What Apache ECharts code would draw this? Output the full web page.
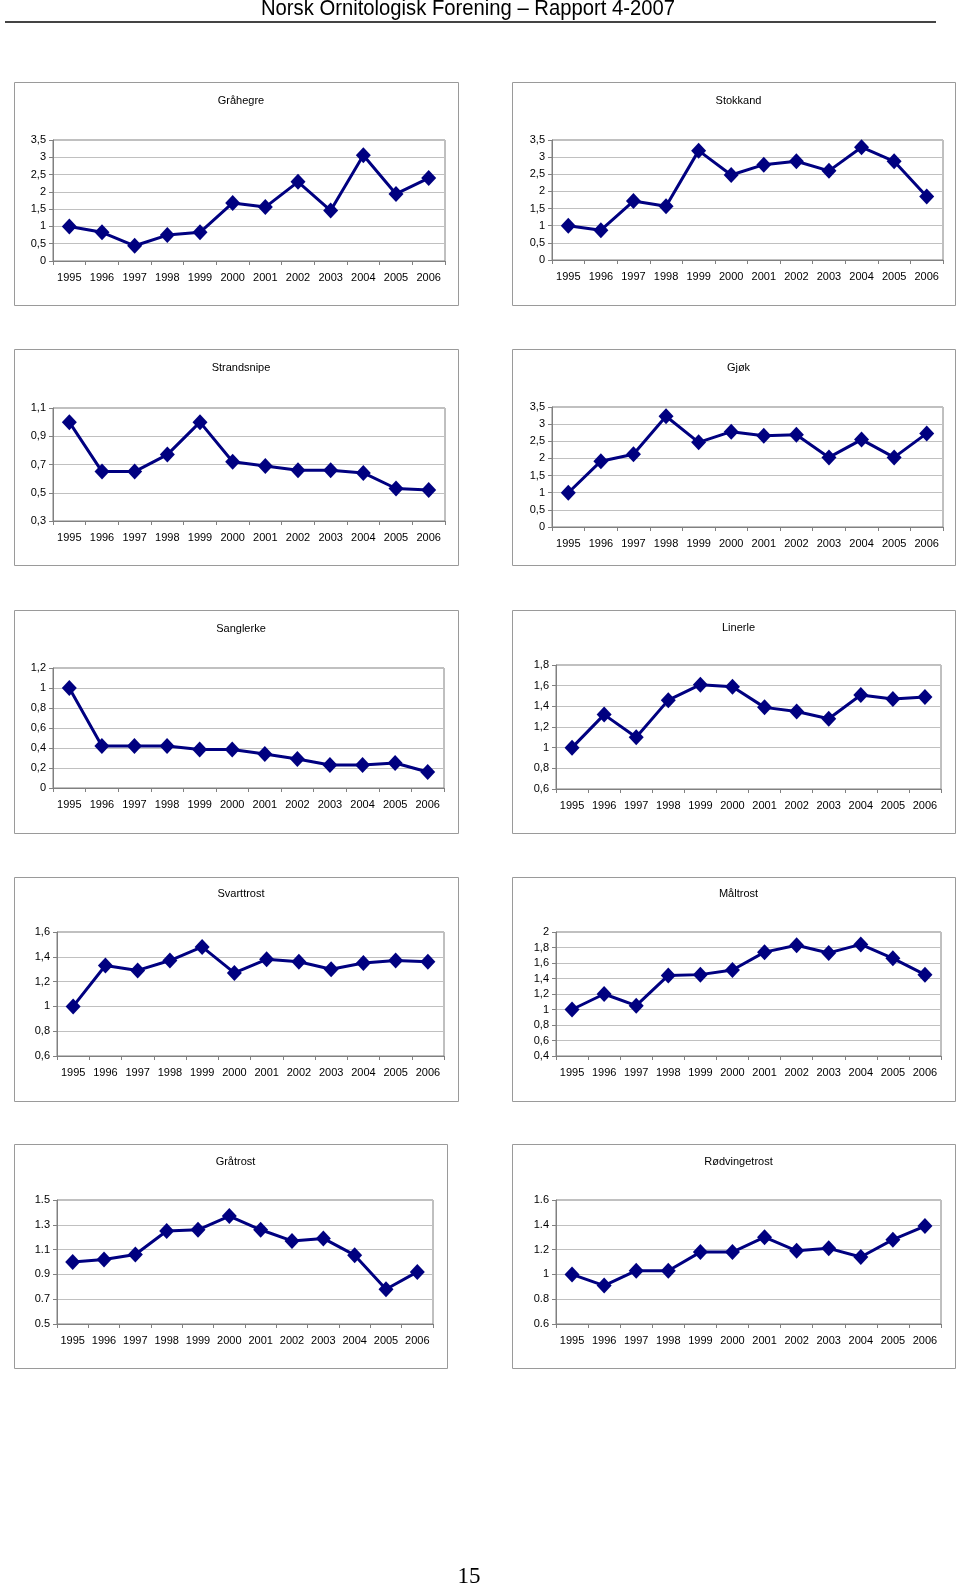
<!DOCTYPE html>
<html>
<head>
<meta charset="utf-8">
<script src="https://cdn.jsdelivr.net/npm/echarts@6/dist/echarts.min.js"></script>
<style>
  html, body { margin: 0; padding: 0; background: #ffffff; }
  #chart { width: 960px; height: 1586px; }
</style>
</head>
<body>
<div id="chart"></div>
<script>
const years = ["1995", "1996", "1997", "1998", "1999", "2000", "2001", "2002", "2003", "2004", "2005", "2006"];

const grahegre = [1.0, 0.83, 0.44, 0.75, 0.83, 1.68, 1.56, 2.29, 1.46, 3.06, 1.94, 2.4];
const stokkand = [1.0, 0.87, 1.72, 1.57, 3.19, 2.48, 2.78, 2.88, 2.6, 3.29, 2.88, 1.85];
const strandsnipe = [1.0, 0.65, 0.65, 0.77, 1.0, 0.72, 0.69, 0.66, 0.66, 0.64, 0.53, 0.52];
const gjok = [1.0, 1.92, 2.12, 3.23, 2.47, 2.78, 2.66, 2.69, 2.03, 2.55, 2.03, 2.73];
const sanglerke = [1.0, 0.42, 0.42, 0.42, 0.385, 0.385, 0.34, 0.29, 0.23, 0.23, 0.25, 0.16];
const linerle = [1.0, 1.32, 1.1, 1.46, 1.61, 1.59, 1.39, 1.35, 1.28, 1.51, 1.47, 1.49];
const svarttrost = [1.0, 1.33, 1.29, 1.37, 1.48, 1.27, 1.38, 1.36, 1.3, 1.35, 1.37, 1.36];
const maltrost = [1.0, 1.2, 1.05, 1.44, 1.45, 1.51, 1.74, 1.83, 1.73, 1.84, 1.66, 1.45];
const gratrost = [1.0, 1.02, 1.06, 1.25, 1.26, 1.37, 1.26, 1.17, 1.19, 1.055, 0.78, 0.92];
const rodvingetrost = [1.0, 0.91, 1.03, 1.03, 1.18, 1.18, 1.3, 1.19, 1.21, 1.14, 1.28, 1.39];

const titles = ["Gråhegre", "Stokkand", "Strandsnipe", "Gjøk", "Sanglerke", "Linerle", "Svarttrost", "Måltrost", "Gråtrost", "Rødvingetrost"];
const values = [grahegre, stokkand, strandsnipe, gjok, sanglerke, linerle, svarttrost, maltrost, gratrost, rodvingetrost];

// y axis ticks per panel
const yMin = [0, 0, 0.3, 0, 0, 0.6, 0.6, 0.4, 0.5, 0.6];
const yMax = [3.5, 3.5, 1.1, 3.5, 1.2, 1.8, 1.6, 2, 1.5, 1.6];
const yStep = [0.5, 0.5, 0.2, 0.5, 0.2, 0.2, 0.2, 0.2, 0.2, 0.2];
const decimalMark = [",", ",", ",", ",", ",", ",", ",", ",", ".", "."];

const headerText = "Norsk Ornitologisk Forening – Rapport 4-2007";
const pageNumber = "15";

// layout: outer panel boxes and plot areas
const boxes = [
  [14, 82, 444, 223], [512, 82, 443, 223],
  [14, 349, 444, 216], [512, 349, 443, 216],
  [14, 610, 444, 223], [512, 610, 443, 223],
  [14, 877, 444, 224], [512, 877, 443, 224],
  [14, 1144, 433, 224], [512, 1144, 443, 224],
];
const plots = [
  [53, 140, 392, 121], [552, 140, 391, 120],
  [53, 408, 392, 113], [552, 407, 391, 120],
  [53, 668, 391, 120], [556, 665, 385, 124],
  [57, 932, 387, 124], [556, 932, 385, 124],
  [57, 1200, 376, 124], [556, 1200, 385, 124],
];
const titleY = [97, 97, 364, 364, 625, 624, 890, 890, 1158, 1158];

const font = "'Liberation Sans', Arial, sans-serif";
const navy = "#000080";

function tickLabel(i) {
  return (v) => String(+v.toFixed(1)).replace(".", decimalMark[i]);
}

const chart = echarts.init(document.getElementById("chart"));

const grid = plots.map(([left, top, width, height]) => ({
  left, top, width, height,
  show: true,
  borderColor: "#808080",
  borderWidth: 1,
  backgroundColor: "transparent",
}));

const xAxis = plots.map((_, i) => ({
  type: "category",
  gridIndex: i,
  data: years,
  boundaryGap: true,
  axisLine: { lineStyle: { color: "#808080", width: 1 } },
  axisTick: { show: true, length: 4, lineStyle: { color: "#808080" } },
  axisLabel: { color: "#000", fontSize: 11, fontFamily: font, margin: 11, interval: 0 },
  splitLine: { show: false },
}));

const yAxis = plots.map((_, i) => ({
  type: "value",
  gridIndex: i,
  min: yMin[i],
  max: yMax[i],
  interval: yStep[i],
  axisLine: { show: true, lineStyle: { color: "#808080", width: 1 } },
  axisTick: { show: true, length: 4, lineStyle: { color: "#808080" } },
  axisLabel: { color: "#000", fontSize: 11, fontFamily: font, margin: 7, formatter: tickLabel(i) },
  splitLine: { show: true, lineStyle: { color: "#c0c0c0", width: 1 } },
}));

const series = values.map((data, i) => ({
  name: titles[i],
  type: "line",
  xAxisIndex: i,
  yAxisIndex: i,
  data,
  symbol: "diamond",
  symbolSize: [15, 16],
  lineStyle: { color: navy, width: 3 },
  itemStyle: { color: navy },
  z: 3,
}));

const title = boxes.map(([x, y, w], i) => ({
  text: titles[i],
  left: x + w / 2,
  top: titleY[i] - 7,
  textAlign: "center",
  textStyle: { fontSize: 11, fontWeight: "normal", color: "#000", fontFamily: font },
}));

const graphic = [
  ...boxes.map(([x, y, w, h]) => ({
    type: "rect",
    shape: { x: x + 0.5, y: y + 0.5, width: w, height: h },
    style: { fill: "none", stroke: "#9a9a9a", lineWidth: 1 },
    silent: true,
  })),
  {
    type: "text",
    x: 468, y: 9,
    scaleX: 0.92,
    style: {
      text: headerText,
      fontSize: 22,
      fontFamily: "'Liberation Sans Narrow', 'Arial Narrow', 'Liberation Sans', sans-serif",
      fill: "#000",
      align: "center",
      verticalAlign: "middle",
    },
  },
  {
    type: "line",
    shape: { x1: 5, y1: 22, x2: 936, y2: 22 },
    style: { stroke: "#444", lineWidth: 2 },
  },
  {
    type: "text",
    x: 469, y: 1577,
    style: {
      text: pageNumber,
      fontSize: 23,
      fontFamily: "'Liberation Serif', 'Times New Roman', serif",
      fill: "#000",
      align: "center",
      verticalAlign: "middle",
    },
  },
];

chart.setOption({
  animation: false,
  backgroundColor: "#ffffff",
  title,
  grid,
  xAxis,
  yAxis,
  series,
  graphic,
});
</script>
</body>
</html>
